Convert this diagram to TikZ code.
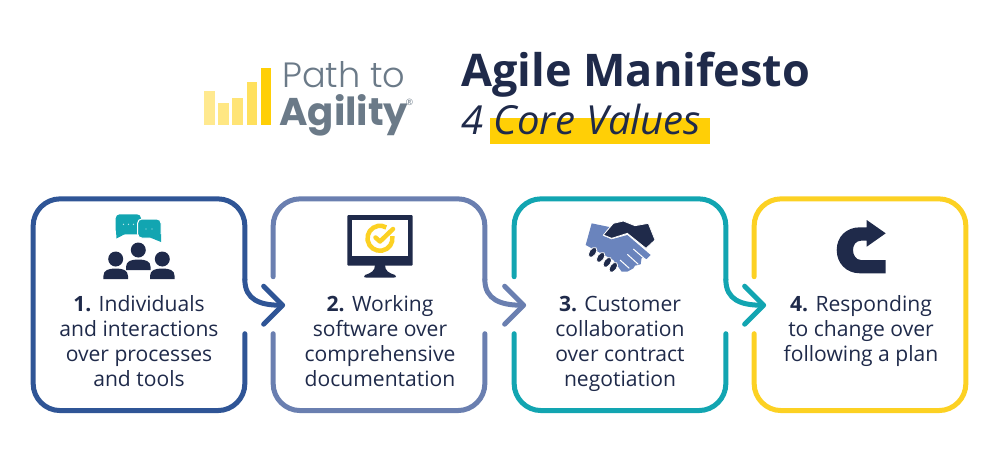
\documentclass[tikz,border=0pt]{standalone}
\usepackage{fontspec}
\setmainfont{Open Sans}
\newfontfamily\logofont[UprightFont=* Light,BoldFont=* Bold]{Poppins}
\usetikzlibrary{arrows.meta,calc}
\definecolor{navy}{HTML}{1F2A4A}
\definecolor{cardblue}{HTML}{2F5596}
\definecolor{cardslate}{HTML}{6A7FB0}
\definecolor{cardteal}{HTML}{12A5B1}
\definecolor{cardyellow}{HTML}{FCD123}
\definecolor{markyellow}{HTML}{FFCF06}
\definecolor{logogray}{HTML}{6B7A88}
\definecolor{handblue}{HTML}{6A84BD}
\tikzset{
    cardbox/.style={minimum width=0.02cm*211, minimum height=0.02cm*211, inner sep=0pt},
    cardline/.style={draw=#1, line width=0.02cm*5, line cap=round, rounded corners=0.02cm*27},
    cardlink/.style={draw=#1, line width=0.02cm*5, line cap=round, -{Straight Barb[length=0.02cm*19, width=0.02cm*38, round]}},
    cardtext/.style={anchor=north, align=center, text=navy, inner sep=0pt, font=\fontsize{12}{14.2}\selectfont},
    icondark/.style={fill=navy},
}
\begin{document}
\begin{tikzpicture}[x=0.02cm, y=-0.02cm]
    \useasboundingbox (0, 0) rectangle (1000, 468);
    % logo
    \fill[markyellow!45] (204.3, 91) rectangle (215, 124.5);
    \fill[markyellow!50] (218.3, 103.3) rectangle (229, 124.5);
    \fill[markyellow!55] (232.3, 97.7) rectangle (243, 124.5);
    \fill[markyellow!65] (246.7, 82.3) rectangle (257.3, 124.5);
    \fill[markyellow] (260.7, 68.3) rectangle (271.3, 124.5);
    \node[anchor=base west, inner sep=0pt, text=logogray, font=\logofont\fontsize{20}{22}\selectfont] (logotop) at (282, 87.5) {Path to};
    \node[anchor=base west, inner sep=0pt, text=logogray, font=\logofont\bfseries\fontsize{22}{24}\selectfont] (logobottom) at (279, 125.5) {Agility};
    \node[inner sep=0pt, text=logogray, font=\fontsize{5}{6}\selectfont] (logomark) at (409.5, 102) {®};
    % title
    \fill[markyellow] (490, 117.7) rectangle (710, 143.7);
    \node[anchor=base west, inner sep=0pt, text=navy, font=\bfseries\fontsize{25.6}{30}\selectfont] (title) at (461, 86) {Agile Manifesto};
    \node[anchor=base west, inner sep=0pt, text=navy, font=\itshape\fontsize{22.8}{26}\selectfont] (subtitle) at (461, 134.3) {4 Core Values};
    % cards
    \node[cardbox] (card1) at (139, 304.7) {};
    \node[cardbox] (card2) at (379, 304.7) {};
    \node[cardbox] (card3) at (620, 304.7) {};
    \node[cardbox] (card4) at (860, 304.7) {};
    \draw[cardline=cardblue] ($(card1.east)+(0, 29)$) -- (card1.south east) -- (card1.south west) -- (card1.north west) -- (card1.north east) -- ($(card1.east)+(0, -25)$);
    \draw[cardline=cardslate] ($(card2.west)+(0, -28)$) -- (card2.north west) -- (card2.north east) -- ($(card2.east)+(0, -25)$);
    \draw[cardline=cardslate] ($(card2.east)+(0, 29)$) -- (card2.south east) -- (card2.south west) -- ($(card2.west)+(0, 29)$);
    \draw[cardline=cardteal] ($(card3.west)+(0, -28)$) -- (card3.north west) -- (card3.north east) -- ($(card3.east)+(0, -25)$);
    \draw[cardline=cardteal] ($(card3.east)+(0, 29)$) -- (card3.south east) -- (card3.south west) -- ($(card3.west)+(0, 29)$);
    \draw[cardline=cardyellow] ($(card4.west)+(0, -28)$) -- (card4.north west) -- (card4.north east) -- (card4.south east) -- (card4.south west) -- ($(card4.west)+(0, 29)$);
    % links
    \draw[cardlink=cardblue] ($(card1.east)+(0, -25)$) .. controls +(0, 20) and +(-25, 0) .. ($(card2.west)+(12, 0.5)$);
    \draw[cardlink=cardslate] ($(card2.east)+(0, -25)$) .. controls +(0, 20) and +(-25, 0) .. ($(card3.west)+(12, 0.5)$);
    \draw[cardlink=cardteal] ($(card3.east)+(0, -25)$) .. controls +(0, 20) and +(-25, 0) .. ($(card4.west)+(12, 0.5)$);
    % card texts
    \node[cardtext] (text1) at (139, 295) {\textbf{1.} Individuals\\and interactions\\over processes\\and tools};
    \node[cardtext] (text2) at (380, 295) {\textbf{2.} Working\\software over\\comprehensive\\documentation};
    \node[cardtext] (text3) at (620, 296) {\textbf{3.} Customer\\collaboration\\over contract\\negotiation};
    \node[cardtext] (text4) at (861, 295) {\textbf{4.} Responding\\to change over\\following a plan};
    % people icon
    \fill[cardteal, rounded corners=0.02cm*4] (115.7, 214.3) rectangle (141, 234.3);
    \fill[cardteal] (116, 231) -- (116.5, 238.5) -- (127, 233) -- cycle;
    \fill[cardteal, draw=white, line width=0.02cm*1, rounded corners=0.02cm*4] (137.7, 219) rectangle (161, 238);
    \fill[cardteal] (161, 234) -- (161, 242) -- (150, 237.5) -- cycle;
    \foreach \dotx in {123.5, 128.5, 133.5} \fill[white!70!cardteal] (\dotx, 224.3) circle (0.7);
    \foreach \dotx in {146, 152} \fill[white!70!cardteal] (\dotx, 229) circle (0.7);
    \foreach \px/\py in {138.3/250, 115.7/259, 162.3/259} {
        \fill[icondark] (\px, \py) circle (7.5);
        \fill[icondark] (\px-12.3, \py+20) -- (\px-12.3, \py+17) .. controls (\px-12.3, \py+11) and (\px-7, \py+9.5) .. (\px, \py+9.5) .. controls (\px+7, \py+9.5) and (\px+12.3, \py+11) .. (\px+12.3, \py+17) -- (\px+12.3, \py+20) -- cycle;
    }
    % monitor icon
    \fill[icondark, rounded corners=0.02cm*1] (347.3, 215) rectangle (412.7, 265.7);
    \fill[white] (352.3, 220) rectangle (408.3, 255.7);
    \fill[icondark] (375, 265) .. controls (375, 271) and (371, 273) .. (365, 275) .. controls (363, 277) and (364, 277.5) .. (366, 277.5) -- (394, 277.5) .. controls (396, 277.5) and (397, 277) .. (395, 275) .. controls (389, 273) and (385, 271) .. (385, 265) -- cycle;
    \draw[cardyellow, line width=0.02cm*4.5] (392.3, 236.1) arc[start angle=-10, end angle=300, radius=12.5];
    \draw[cardyellow, line width=0.02cm*4.5, line cap=round, line join=round] (375.5, 237.5) -- (380, 241.5) -- (393, 229);
    % handshake icon
    \begin{scope}[shift={(570, 205)}, x=0.02cm/3, y=-0.02cm/3]
        \fill[handblue] (65, 55) -- (118, 66) -- (98, 92) -- (125, 103) -- (172, 90) -- (242, 150) -- (230, 162) -- (215, 158) -- (212, 178) -- (195, 182) -- (190, 190) -- (172, 200) -- (155, 200) -- (130, 165) -- (47, 120) -- cycle;
        \draw[white, line width=0.02cm*1] (190, 132) -- (228, 165) (172, 148) -- (205, 178) (150, 165) -- (178, 190);
        \fill[icondark, draw=white, line width=0.02cm*0.8] (100, 90) -- (130, 55) -- (160, 48) -- (195, 62) -- (235, 55) -- (255, 105) -- (228, 130) -- (172, 85) -- (125, 100) -- cycle;
        \foreach \knx/\kny in {68/142, 92/157, 112/172, 130/187}
            \fill[icondark, draw=white, line width=0.02cm*0.8, rotate around={-35:(\knx, \kny)}] (\knx, \kny) ellipse (10 and 17);
    \end{scope}
    % turn arrow icon
    \fill[icondark] (885.7, 273.3) -- (860, 273.3) .. controls (846, 273.3) and (836.7, 263) .. (836.7, 250) .. controls (836.7, 237) and (846, 227.3) .. (860, 227.3) -- (866.7, 227.3) -- (866.7, 220) -- (885.7, 233.3) -- (866.7, 246.7) -- (866.7, 240.7) -- (861, 240.7) .. controls (856, 240.7) and (853, 245) .. (853, 250) .. controls (853, 255) and (856, 260) .. (861, 260) -- (885.7, 260) -- cycle;
\end{tikzpicture}
\end{document}
